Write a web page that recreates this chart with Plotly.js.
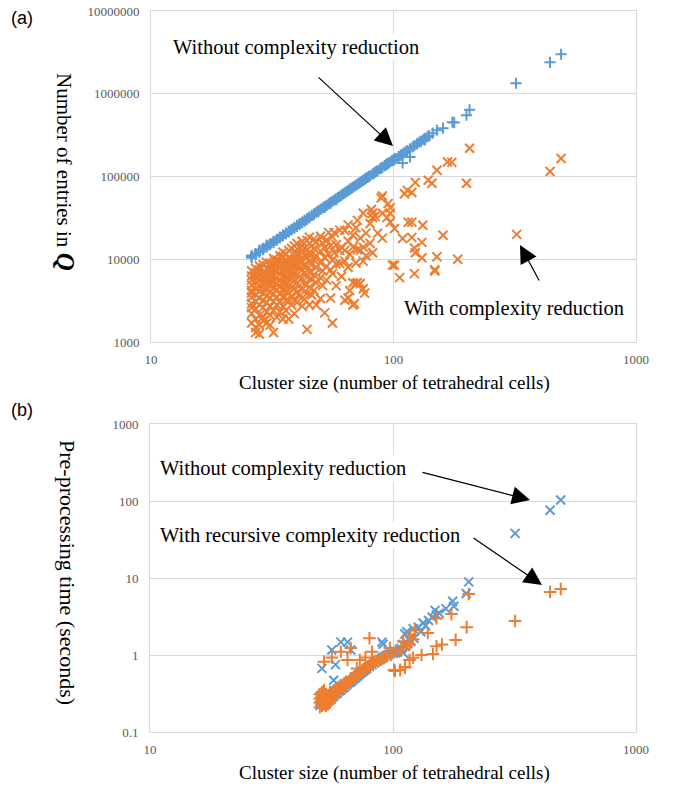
<!DOCTYPE html>
<html>
<head>
<meta charset="utf-8">
<script src="https://cdn.plot.ly/plotly-3.0.1.min.js"></script>
<style>html,body{margin:0;padding:0;background:#fff;}#chart{width:675px;height:787px;}</style>
</head>
<body>
<div id="chart"></div>
<script>
// ---------- Panel (a): number of entries in Q ----------
const aWithoutX = [26,26,26,27,27,28,28,28,29,29,30,30,30,31,31,32,32,33,33,34,34,35,35,36,36,37,37,38,38,39,39,40,40,41,41,42,42,43,43,44,44,45,45,46,47,47,48,49,49,50,51,52,52,53,54,55,55,56,57,58,58,59,60,61,62,63,64,65,66,67,68,69,70,71,72,73,74,75,76,77,78,79,80,82,83,84,85,86,88,89,90,92,93,94,95,96,98,99,100,101,102,105,107,108,109,110,112,114,117,117,120,122,125,128,130,133,135,135,138,140,145,151,160,175,178,200,206,320,442,491];
const aWithoutY = [10800,10400,11100,11700,11300,12600,12200,12900,13500,13100,14400,14000,14800,15400,15000,16400,16000,17400,17000,18500,18100,19600,19100,20700,20200,21900,21400,23100,22600,24300,23800,25600,25000,26900,26300,28200,27600,29600,28900,31000,30300,32400,31700,33900,35300,34600,36900,38400,37600,40000,41600,43300,42300,44900,46700,48400,47300,50200,52000,53800,52600,55700,57600,59500,61500,63500,65500,67600,69700,71800,74000,76200,78400,80700,82900,85300,87600,90000,92400,94900,97300,99900,102000,107000,110000,113000,115000,118000,124000,126000,129000,135000,138000,141000,144000,147000,153000,156000,158000,162000,165000,174000,181000,184000,146000,192000,199000,206000,216000,172000,228000,236000,248000,260000,268000,281000,290000,276000,302000,311000,334000,362000,384000,453000,448000,551000,640000,1340000,2400000,3000000];

const aWithX = [
26,26,26,26,26,26,26,26,26,26,26,
27,27,27,27,27,27,27,27,27,27,27,
28,28,28,28,28,28,28,28,28,28,28,
29,29,29,29,29,29,29,29,29,29,
30,30,30,30,30,30,30,30,30,30,
31,31,31,31,31,31,31,31,31,31,
32,32,32,32,32,32,32,32,32,32,
33,33,33,33,33,33,33,33,33,
34,34,34,34,34,34,34,34,34,
35,35,35,35,35,35,35,35,35,35,
36,36,36,36,36,36,36,36,
37,37,37,37,37,37,37,37,37,
38,38,38,38,38,38,38,38,
39,39,39,39,39,39,39,39,39,
40,40,40,40,40,40,40,40,
41,41,41,41,41,41,41,
42,42,42,42,42,42,42,
43,43,43,43,43,43,
44,44,44,44,44,44,44,
45,45,45,45,45,45,45,
46,46,46,46,46,
47,47,47,47,47,
48,48,48,48,48,
50,50,50,50,50,
51,51,51,52,52,52,53,53,53,54,54,55,55,55,56,56,56,56,57,57,58,58,58,
60,60,60,61,61,63,63,63,63,65,65,65,65,66,66,68,68,68,68,69,70,70,70,71,71,71,73,73,73,
75,75,75,75,76,77,77,80,80,81,82,82,82,84,86,89,90,90,90,94,95,97,97,97,99,101,101,106,109,
111,114,115,119,119,119,122,122,123,123,131,131,132,139,144,148,148,151,151,160,167,174,184,200,206,322,442,491];
const aWithY = [
2200,2900,3500,4200,4900,5600,6300,7200,1700,2600,3900,
1300,1900,2500,3100,3700,4400,5200,6000,6800,7800,1500,
1250,2100,2800,3400,4100,4700,5500,6400,7400,8300,1600,
2000,2600,3200,3900,4500,5300,6100,7000,8600,1800,
1700,2300,3000,3600,4300,5000,5800,6700,7700,9200,
2100,2700,3400,4000,4800,5600,6500,7500,9000,1600,
1300,2400,3100,3800,4500,5300,6200,7300,8700,10200,
2000,2800,3500,4300,5100,6000,7100,8400,9800,
2300,3000,3800,4600,5500,6600,7900,9500,11000,
1900,2700,3500,4400,5300,6300,7600,9100,10800,12200,
2400,3200,4100,5000,6100,7400,8800,11500,
1900,3100,3900,4800,5900,7200,8600,10300,12800,
2800,3600,4600,5700,6900,8400,10000,13500,
2200,3300,4400,5500,6700,8200,9900,12000,14500,
3000,4000,5200,6500,8000,9700,11800,15500,
3600,4800,6200,7800,9500,11500,14000,
2700,4300,5800,7500,9300,12800,16500,
3300,5000,6800,8700,11000,13500,
1420,3900,6000,8200,10500,13000,16900,
2800,4600,7000,9500,12000,15500,18500,
3700,5700,8500,11500,14500,
4200,6500,9800,13500,17500,
2800,5200,8000,11000,16000,
3350,6000,9000,12500,19000,
15600,4800,7200,2250,10500,13800,5600,17000,8200,11500,21000,3400,7400,14500,1700,6700,9800,18500,21000,12000,4800,8800,15000,
8900,12800,22500,14000,6200,3200,12800,22300,9500,3400,8000,16500,26000,4200,11500,2800,5200,14000,19500,2900,5100,9000,24000,29500,5200,13000,5100,12800,18000,
36000,4400,14000,9500,3900,20700,11000,15600,27000,40000,36000,12000,32000,33000,20700,55000,58000,18000,36000,32000,47000,36000,42000,28000,8500,23500,8500,6000,17800,
62000,68000,28000,64000,28000,18400,13700,6700,85000,12000,16000,10400,25800,90000,83000,7500,7200,119000,10700,19500,150000,148000,10000,83000,219000,20000,115000,165000];

// ---------- Panel (b): pre-processing time (seconds) ----------
const bWithoutX = [50,50,50,51,51,51,52,52,52,53,53,54,54,54,55,55,56,56,56,57,57,57,58,58,58,58,59,59,60,60,61,61,62,62,63,63,64,65,65,66,67,67,68,69,70,71,72,73,74,75,76,77,78,80,82,84,86,88,90,90,91,92,94,96,98,100,102,104,106,108,110,110,112,112,114,115,117,118,121,122,127,130,133,136,140,145,149,151,155,165,176,178,200,205,318,443,490];
const bWithoutY = [0.22,0.25,0.28,0.23,0.26,0.67,0.24,0.27,0.30,0.25,0.28,0.26,0.29,0.32,0.27,0.30,0.28,0.31,1.16,0.29,0.33,0.47,0.31,0.34,0.75,0.32,0.32,0.36,0.34,0.37,0.35,1.47,0.37,0.40,0.38,0.42,0.40,0.42,1.47,0.44,0.45,1.16,0.47,0.49,0.51,0.53,0.55,0.57,0.59,0.61,0.63,0.65,0.67,0.71,0.75,0.79,0.83,0.87,0.91,1.47,1.38,0.95,0.99,1.02,1.05,1.08,1.12,1.10,1.18,1.22,1.07,1.37,1.87,1.30,2.0,1.40,1.57,1.50,2.2,1.65,2.3,2.0,2.6,2.4,2.8,3.1,3.8,3.3,3.5,4.0,5.0,4.3,6.3,8.9,38,76,103];

const bWithX = [50,50,50,50,51,51,51,51,52,52,52,52,53,53,53,53,54,54,54,55,55,55,55,56,56,56,57,57,58,58,59,59,60,60,61,61,62,62,63,63,64,64,65,65,66,67,67,67,68,69,70,71,71,72,73,73,74,75,76,77,77,78,79,80,80,81,82,82,83,84,86,88,90,92,94,97,98,101,102,104,107,108,110,112,112,113,117,117,118,121,121,123,131,139,146,151,151,159,174,181,201,205,318,443,490];
const bWithY = [0.21,0.24,0.27,0.31,0.22,0.25,0.29,0.33,0.23,0.26,0.82,0.35,0.24,0.28,0.31,0.22,0.26,0.29,0.23,0.27,0.30,0.33,0.24,0.28,0.32,0.93,0.30,0.34,0.31,0.35,0.33,0.37,0.34,0.38,0.36,1.10,0.38,0.41,0.39,0.43,0.41,0.45,0.43,0.86,0.45,0.47,1.23,0.50,0.49,0.51,0.53,0.55,0.67,0.57,0.59,0.86,0.61,0.63,0.65,0.67,0.93,0.69,0.71,0.73,1.65,0.75,0.77,1.10,0.79,0.81,0.84,0.87,0.90,0.93,0.96,1.23,1.00,0.64,0.62,1.10,0.64,1.15,1.50,0.69,0.70,1.30,0.86,1.37,1.80,0.92,1.60,2.1,1.00,1.93,1.03,1.30,3.0,1.37,3.4,1.57,2.3,6.2,2.77,6.6,7.2];

const xTickVals = [10, 100, 1000];
const xTickText = ['10', '100', '1000'];
const aTickVals = [1000, 10000, 100000, 1000000, 10000000];
const aTickText = ['1000', '10000', '100000', '1000000', '10000000'];
const bTickVals = [0.1, 1, 10, 100, 1000];
const bTickText = ['0.1', '1', '10', '100', '1000'];

const xTitle = 'Cluster size (number of tetrahedral cells)';
const aYTitle = 'Number of entries in <span style="font-size:25px"><b><i>Q</i></b></span>';
const bYTitle = 'Pre-processing time (seconds)';
const labelWithout = 'Without complexity reduction';
const labelWith = 'With complexity reduction';
const labelRecursive = 'With recursive complexity reduction';

// ---------- styling ----------
const W = 675, H = 787;
const BLUE = '#5B9BD5', ORANGE = '#ED7D31';
const px = (x) => x / W;
const py = (y) => 1 - y / H;
const serif = 'Liberation Serif, Times New Roman, serif';

const axCommon = {
  showgrid: true, gridcolor: '#d9d9d9', gridwidth: 1,
  showline: true, linecolor: '#d9d9d9', linewidth: 1, mirror: true,
  zeroline: false, ticks: '', tickmode: 'array',
  tickfont: {family: serif, size: 13, color: '#595959'},
  fixedrange: true
};

const traces = [
  {x: aWithoutX, y: aWithoutY, xaxis: 'x', yaxis: 'y', type: 'scatter', mode: 'markers',
   marker: {symbol: 'cross-thin', size: 8, line: {color: BLUE, width: 2}, color: BLUE}},
  {x: aWithX, y: aWithY, xaxis: 'x', yaxis: 'y', type: 'scatter', mode: 'markers',
   marker: {symbol: 'x-thin', size: 9, line: {color: ORANGE, width: 2}, color: ORANGE}},
  {x: bWithoutX, y: bWithoutY, xaxis: 'x2', yaxis: 'y2', type: 'scatter', mode: 'markers',
   marker: {symbol: 'x-thin', size: 9, line: {color: BLUE, width: 2}, color: BLUE}},
  {x: bWithX, y: bWithY, xaxis: 'x2', yaxis: 'y2', type: 'scatter', mode: 'markers',
   marker: {symbol: 'cross-thin', size: 9, line: {color: ORANGE, width: 2}, color: ORANGE}}
];

function textAnn(text, cx, cy, size, extra) {
  return Object.assign({text: text, xref: 'paper', yref: 'paper', x: px(cx), y: py(cy),
    xanchor: 'center', yanchor: 'middle', showarrow: false,
    font: {family: serif, size: size, color: '#000'}}, extra || {});
}
function arrowAnn(tx, ty, hx, hy) {
  return {text: '', xref: 'paper', yref: 'paper', x: px(hx), y: py(hy),
    ax: tx - hx, ay: ty - hy, axref: 'pixel', ayref: 'pixel',
    showarrow: true, arrowhead: 2, arrowsize: 3, arrowwidth: 1.2, arrowcolor: '#000'};
}

const annotations = [
  textAnn('(a)', 22, 18, 18, {font: {family: 'Liberation Sans, Arial, sans-serif', size: 18, color: '#000'}}),
  textAnn('(b)', 22, 410, 18, {font: {family: 'Liberation Sans, Arial, sans-serif', size: 18, color: '#000'}}),
  textAnn(xTitle, 394, 383, 19),
  textAnn(xTitle, 394, 773, 19),
  textAnn(aYTitle, 66, 172, 21, {textangle: 90}),
  textAnn(bYTitle, 68, 572, 22, {textangle: 90}),
  textAnn(labelWithout, 296, 48, 20.5, {bgcolor: '#fff'}),
  textAnn(labelWith, 514, 308, 20.5, {bgcolor: '#fff'}),
  textAnn(labelWithout, 283, 468, 20.5, {bgcolor: '#fff'}),
  textAnn(labelRecursive, 310, 535, 20.5, {bgcolor: '#fff'}),
  arrowAnn(317, 76, 393, 146),
  arrowAnn(540, 282, 520, 245),
  arrowAnn(421, 472, 530, 500),
  arrowAnn(472, 537, 542, 585)
];

const layout = {
  width: W, height: H,
  margin: {l: 0, r: 0, t: 0, b: 0},
  paper_bgcolor: '#fff', plot_bgcolor: '#fff',
  showlegend: false,
  xaxis: Object.assign({}, axCommon, {type: 'log', range: [1, 3], domain: [px(151), px(636)], anchor: 'y',
    tickvals: xTickVals, ticktext: xTickText, ticklabelstandoff: 5}),
  yaxis: Object.assign({}, axCommon, {type: 'log', range: [3, 7], domain: [py(342), py(11)], anchor: 'x',
    tickvals: aTickVals, ticktext: aTickText, ticklabelstandoff: 8}),
  xaxis2: Object.assign({}, axCommon, {type: 'log', range: [1, 3], domain: [px(150), px(636)], anchor: 'y2',
    tickvals: xTickVals, ticktext: xTickText, ticklabelstandoff: 5}),
  yaxis2: Object.assign({}, axCommon, {type: 'log', range: [-1, 3], domain: [py(732), py(424)], anchor: 'x2',
    tickvals: bTickVals, ticktext: bTickText, ticklabelstandoff: 8}),
  annotations: annotations
};

Plotly.newPlot('chart', traces, layout, {displayModeBar: false, staticPlot: true});
</script>
</body>
</html>
